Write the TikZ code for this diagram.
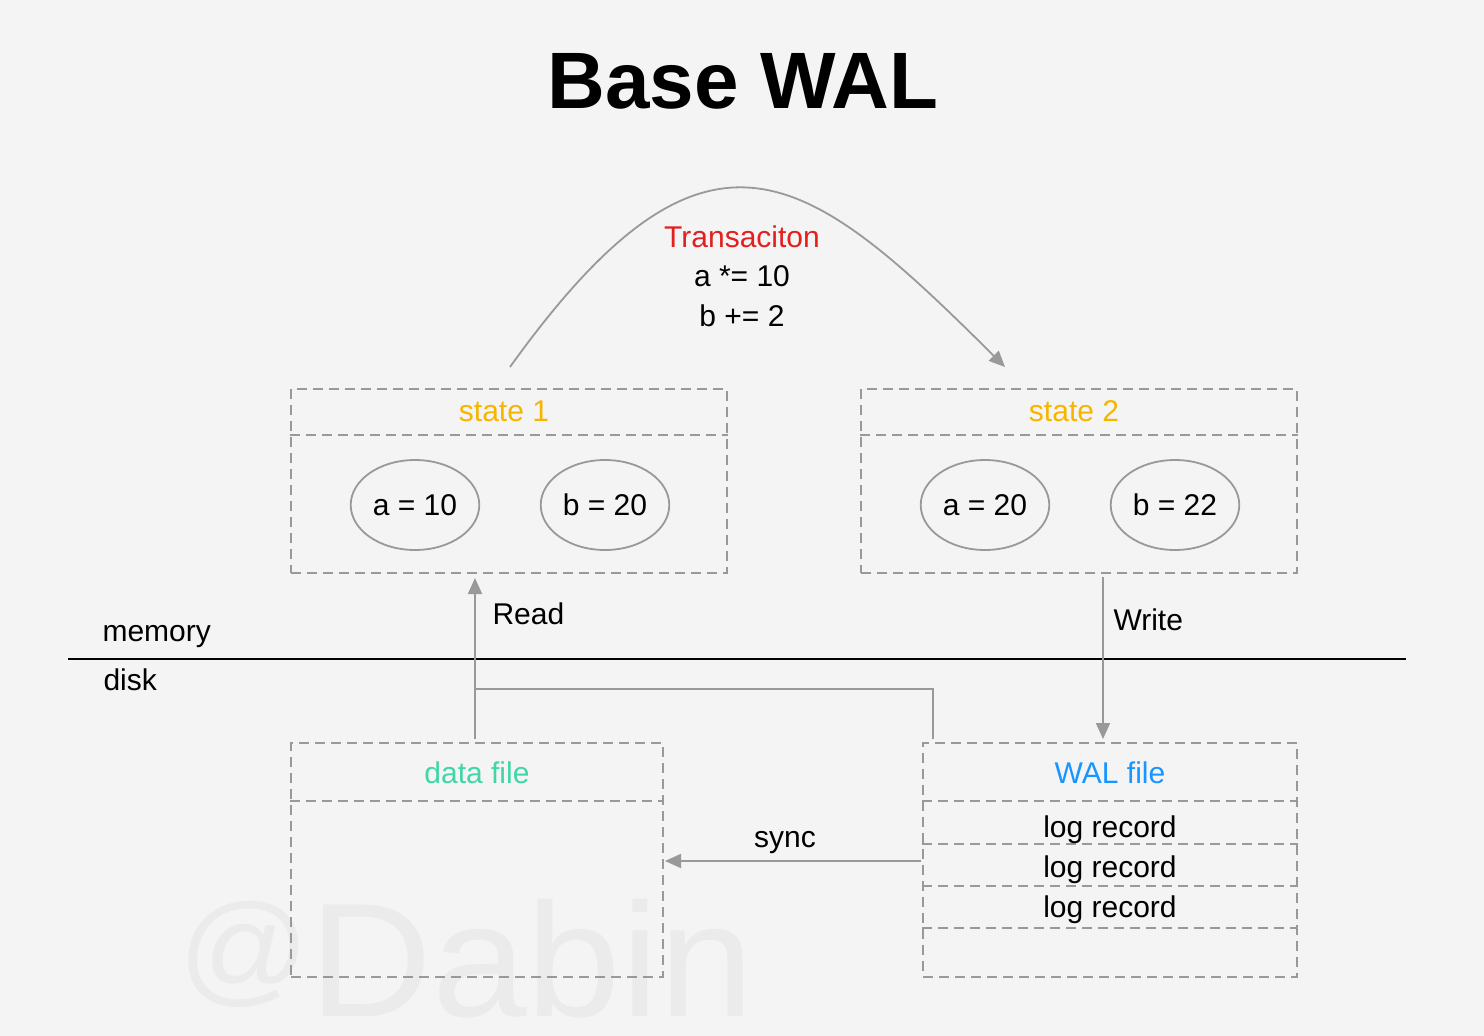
\documentclass[tikz,border=0pt]{standalone}
\usepackage{fontspec}
\setmainfont{Liberation Sans}
\usepackage{tikz}
\usetikzlibrary{shapes.geometric, arrows.meta, positioning, calc}
\definecolor{mybg}{RGB}{244,244,244}
\definecolor{mygray}{RGB}{153,153,153}
\definecolor{myred}{RGB}{226,32,32}
\definecolor{myorange}{RGB}{247,181,0}
\definecolor{myteal}{RGB}{64,214,168}
\definecolor{myblue}{RGB}{24,150,255}
\definecolor{mymark}{RGB}{235,235,235}
\newcommand{\txtfont}{\fontsize{30}{35}\selectfont}
\tikzset{
  box/.style={rectangle, draw=mygray, dash pattern=on 10pt off 6pt,
    line width=2pt, inner sep=0pt},
  divline/.style={draw=mygray, dash pattern=on 10pt off 6pt, line width=2pt},
  valnode/.style={ellipse, draw=mygray, line width=1.8pt,
    minimum width=118pt, minimum height=90pt, font=\txtfont},
  txt/.style={anchor=base, font=\txtfont},
  arrow/.style={-{Triangle[length=16pt,width=14pt]}, line width=1.8pt, color=mygray},
  conn/.style={line width=1.8pt, color=mygray}
}

\begin{document}
\begin{tikzpicture}[x=1pt, y=-1pt]
  \fill[mybg] (0,0) rectangle (1484,1036);
  \useasboundingbox (0,0) rectangle (1484,1036);

  % watermark and title
  \node[anchor=base, inner sep=0pt, text=mymark, font=\fontsize{162}{166}\selectfont] (mark) at (466,1016)
    {\scalebox{1.05}[1]{\raisebox{0.16em}{\scalebox{0.76}{@}}Dabin}};
  \node[anchor=base, font=\fontsize{80}{92}\selectfont\bfseries] (title) at (743,108) {Base WAL};

  % memory states
  \node[box, minimum width=436pt, minimum height=184pt] (s1) at (509,481) {};
  \node[box, minimum width=436pt, minimum height=184pt] (s2) at (1079,481) {};
  \draw[divline] ($(s1.north west)+(0,47)$) -- ($(s1.north east)+(0,47)$);
  \draw[divline] ($(s2.north west)+(0,47)$) -- ($(s2.north east)+(0,47)$);
  \node[txt, text=myorange] (s1t) at ($(s1.north)+(-5,33)$) {state 1};
  \node[txt, text=myorange] (s2t) at ($(s2.north)+(-5,33)$) {state 2};
  \node[valnode] (a1) at (415,505) {a = 10};
  \node[valnode] (b1) at (605,505) {b = 20};
  \node[valnode] (a2) at (985,505) {a = 20};
  \node[valnode] (b2) at (1175,505) {b = 22};

  % transaction
  \draw[arrow] ($(s1.north)+(1,-21)$) .. controls (708,91) and (807,170) .. ($(s2.north)+(-74,-21)$);
  \node[txt, text=myred] (tx) at (742,247) {Transaciton};
  \node[txt] (tx1) at (742,286) {a *= 10};
  \node[txt] (tx2) at (742,326) {b += 2};

  % memory / disk
  \draw[black, line width=2pt] (68,659) -- (1406,659);
  \node[txt, anchor=base west] (mem) at (99,641) {memory};
  \node[txt, anchor=base west] (dsk) at (100,690) {disk};

  % files
  \node[box, minimum width=372pt, minimum height=234pt] (data) at (477,860) {};
  \node[box, minimum width=374pt, minimum height=234pt] (wal) at (1110,860) {};
  \draw[divline] ($(data.north west)+(0,59)$) -- ($(data.north east)+(0,59)$);
  \foreach \dy in {59,102,144,186}
    \draw[divline] ($(wal.north west)+(0,\dy)$) -- ($(wal.north east)+(0,\dy)$);
  \node[txt, text=myteal] (datat) at ($(data.north)+(0,41)$) {data file};
  \node[txt, text=myblue] (walt) at ($(wal.north)+(0,41)$) {WAL file};
  \node[txt] (log1) at ($(wal.north)+(0,95)$) {log record};
  \node[txt] (log2) at ($(wal.north)+(0,135)$) {log record};
  \node[txt] (log3) at ($(wal.north)+(0,175)$) {log record};

  % read / write / sync
  \draw[arrow] ($(data.north)+(-2,-3)$) -- ($(data.north |- s1.south)+(-2,4)$);
  \node[txt, anchor=base west] (rd) at (489,624) {Read};
  \draw[conn] ($(wal.north west)+(11,-3)$) |- ($(data.north)+(-2,-53)$);
  \draw[arrow] ($(s2.south)+(24,3)$) -- ($(wal.north)+(-7,-3)$);
  \node[txt, anchor=base west] (wr) at (1110,630) {Write};
  \draw[arrow] ($(wal.west)+(-1,1)$) -- ($(data.east)+(1,1)$);
  \node[txt] (sy) at (785,847) {sync};
\end{tikzpicture}
\end{document}
